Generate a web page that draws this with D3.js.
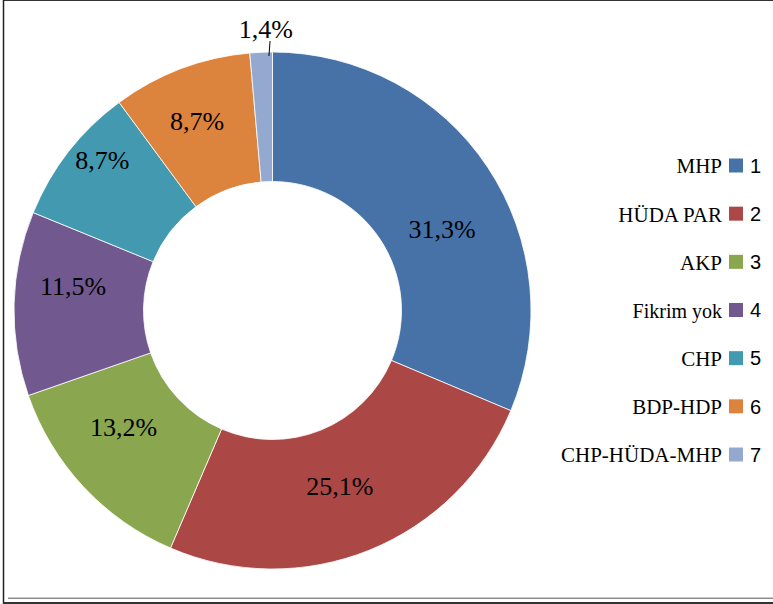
<!DOCTYPE html>
<html>
<head>
<meta charset="utf-8">
<script src="https://cdn.jsdelivr.net/npm/d3@7"></script>
<style>
  html, body { margin: 0; padding: 0; background: #fff; }
  svg { display: block; }
  .serif { font-family: "Liberation Serif", "Times New Roman", "DejaVu Serif", serif; }
  .sans { font-family: "Liberation Sans", Arial, sans-serif; }
</style>
</head>
<body>
<svg id="chart"></svg>
<script>
var parties = ['MHP', 'HÜDA PAR', 'AKP', 'Fikrim yok', 'CHP', 'BDP-HDP', 'CHP-HÜDA-MHP'];
var legendNums = ['1', '2', '3', '4', '5', '6', '7'];
var shares = [31.3, 25.1, 13.2, 11.5, 8.7, 8.7, 1.4];
var colors = ['#4672a8', '#ab4744', '#8aa64f', '#71598f', '#4299b0', '#dc843e', '#93a9cf'];

var svg = d3.select('#chart').attr('width', 773).attr('height', 604);

(function() {
  var width = 773,
    height = 604,
    cx = 272.5,
    cy = 310.5,
    outerR = 258.5,
    innerR = 129;

  // labels were hand-placed in the original, nudge them (deg, radius)
  var labelTurn = [8, 1, 5, 5.5, 3.5, -1, 0],
    labelRad = [188, 188, 189, 201, 227, 204, 0];

  // frame lines like the pasted picture
  svg.append('line').attr('x1', 3).attr('x2', width).attr('y1', 0.5).attr('y2', 0.5)
    .attr('stroke', '#333').attr('stroke-width', 1);
  svg.append('line').attr('x1', 3.5).attr('x2', 3.5).attr('y1', 0).attr('y2', height)
    .attr('stroke', '#222').attr('stroke-width', 1.5);
  svg.append('line').attr('x1', 8).attr('x2', width).attr('y1', 597.5).attr('y2', 597.5)
    .attr('stroke', '#c8c8c8').attr('stroke-width', 1);
  svg.append('line').attr('x1', 8).attr('x2', width).attr('y1', 598.5).attr('y2', 598.5)
    .attr('stroke', '#8c8c8c').attr('stroke-width', 1);
  svg.append('line').attr('x1', 3).attr('x2', width).attr('y1', 603).attr('y2', 603)
    .attr('stroke', '#333').attr('stroke-width', 2);

  var pie = d3.pie().sort(null).value(function(d) { return d; });
  var arcs = pie(shares);

  var arc = d3.arc().innerRadius(innerR).outerRadius(outerR);

  var g = svg.append('g').attr('transform', 'translate(' + cx + ',' + cy + ')');

  g.selectAll('path')
    .data(arcs).enter()
    .append('path')
    .attr('d', arc)
    .attr('fill', function(d, i) { return colors[i]; })
    .attr('stroke', '#fff')
    .attr('stroke-width', 0.8);

  function fmt(v) {
    return d3.format('.1f')(v).replace('.', ',') + '%';
  }

  arcs.forEach(function(d, i) {
    var small = d.endAngle - d.startAngle < 0.2;
    var mid = (d.startAngle + d.endAngle) / 2;
    var x, y;
    if (small) {
      // outside label with leader line
      var a = mid + 0.03;
      g.append('line')
        .attr('x1', Math.sin(a) * (outerR - 4)).attr('y1', -Math.cos(a) * (outerR - 4))
        .attr('x2', Math.sin(a + 0.005) * (outerR + 11)).attr('y2', -Math.cos(a + 0.005) * (outerR + 11))
        .attr('stroke', '#000').attr('stroke-width', 1);
      x = Math.sin(mid + 0.02) * (outerR + 23);
      y = -Math.cos(mid + 0.02) * (outerR + 23);
    } else {
      var t = mid + labelTurn[i] * Math.PI / 180;
      x = Math.sin(t) * labelRad[i];
      y = -Math.cos(t) * labelRad[i];
    }
    g.append('text')
      .attr('class', 'serif')
      .attr('x', x).attr('y', y)
      .attr('dy', '0.35em')
      .attr('text-anchor', 'middle')
      .style('font-size', '26px')
      .attr('fill', '#000')
      .text(fmt(shares[i]));
  });

  // legend
  var legY = d3.scalePoint().domain(legendNums).range([165.5, 454.5]);

  var leg = svg.append('g').selectAll('g')
    .data(parties).enter()
    .append('g')
    .attr('transform', function(d, i) { return 'translate(0,' + legY(legendNums[i]) + ')'; });

  leg.append('rect')
    .attr('x', 729).attr('y', -7)
    .attr('width', 14).attr('height', 14)
    .attr('fill', function(d, i) { return colors[i]; });

  leg.append('text')
    .attr('class', 'serif')
    .attr('x', 722).attr('y', 0)
    .attr('dy', '0.38em')
    .attr('text-anchor', 'end')
    .style('font-size', function(d) { return d === 'Fikrim yok' ? '20px' : '21px'; })
    .attr('fill', '#000')
    .text(function(d) { return d; });

  leg.append('text')
    .attr('class', 'sans')
    .attr('x', 750).attr('y', 0)
    .attr('dy', '0.36em')
    .style('font-size', '20px')
    .attr('fill', '#000')
    .text(function(d, i) { return legendNums[i]; });
})();
</script>
</body>
</html>
